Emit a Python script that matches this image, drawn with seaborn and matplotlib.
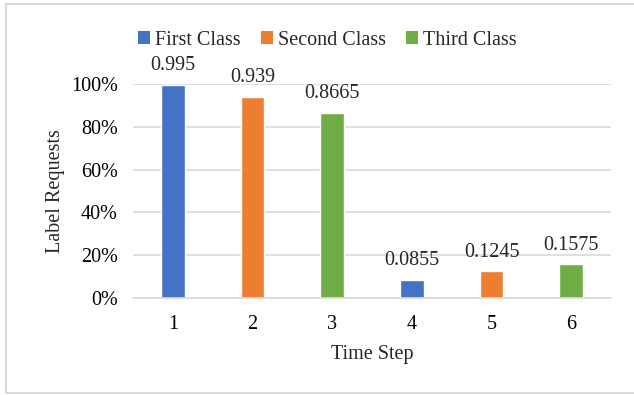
import matplotlib
matplotlib.use("Agg")
import matplotlib.pyplot as plt
import seaborn as sns
import pandas as pd
from matplotlib.patches import Rectangle, Patch
from matplotlib.ticker import PercentFormatter

time_steps = ["1", "2", "3", "4", "5", "6"]
classes = ["First Class", "Second Class", "Third Class",
           "First Class", "Second Class", "Third Class"]
label_requests = [0.995, 0.939, 0.8665, 0.0855, 0.1245, 0.1575]
value_labels = ["0.995", "0.939", "0.8665", "0.0855", "0.1245", "0.1575"]
class_order = ["First Class", "Second Class", "Third Class"]
palette = {"First Class": "#4472C4", "Second Class": "#ED7D31", "Third Class": "#70AD47"}

df = pd.DataFrame({"Time Step": time_steps, "Class": classes, "Label Requests": label_requests})

sns.set_theme(style="white")
plt.rcParams["font.family"] = ["Liberation Serif", "DejaVu Serif"]
fs = 14.5

fig = plt.figure(figsize=(6.34, 3.95), dpi=100)
ax = fig.add_axes([0.2098, 0.2456, 0.7540, 0.5418])

sns.barplot(data=df, x="Time Step", y="Label Requests", hue="Class",
            hue_order=class_order, palette=palette, dodge=False,
            width=0.30, saturation=1, ax=ax, legend=False)

ax.set_ylim(0, 1.0)
ax.set_yticks([0, 0.2, 0.4, 0.6, 0.8, 1.0])
ax.yaxis.set_major_formatter(PercentFormatter(1.0, decimals=0))
ax.yaxis.grid(True, color="#D9D9D9", linewidth=1.2)
ax.set_axisbelow(True)
for s in ["top", "right", "left"]:
    ax.spines[s].set_visible(False)
ax.spines["bottom"].set_color("#D9D9D9")
ax.spines["bottom"].set_linewidth(1.2)
ax.tick_params(axis="y", length=0, labelsize=fs, colors="black", pad=11)
ax.tick_params(axis="x", length=0, labelsize=fs, colors="black", pad=12)
ax.set_xlabel("Time Step", fontsize=fs, labelpad=8)
ax.set_ylabel("Label Requests", fontsize=fs, labelpad=4)

for i, (v, lab) in enumerate(zip(label_requests, value_labels)):
    ax.annotate(lab, xy=(i, v), xytext=(0, 7), textcoords="offset points",
                ha="center", va="bottom", fontsize=fs, clip_on=False)

handles = [Patch(facecolor=palette[c], edgecolor="none") for c in class_order]
fig.legend(handles, class_order, loc="center", bbox_to_anchor=(0.516, 0.898),
           ncol=3, frameon=False, fontsize=fs, handlelength=0.6, handleheight=0.6,
           handletextpad=0.25, columnspacing=1.0)

fig.patches.append(Rectangle((6 / 634, 2 / 395), 1.0, 389 / 395, transform=fig.transFigure,
                             fill=False, edgecolor="#D9D9D9", linewidth=1.5))

fig.savefig("out.png", dpi=100)
